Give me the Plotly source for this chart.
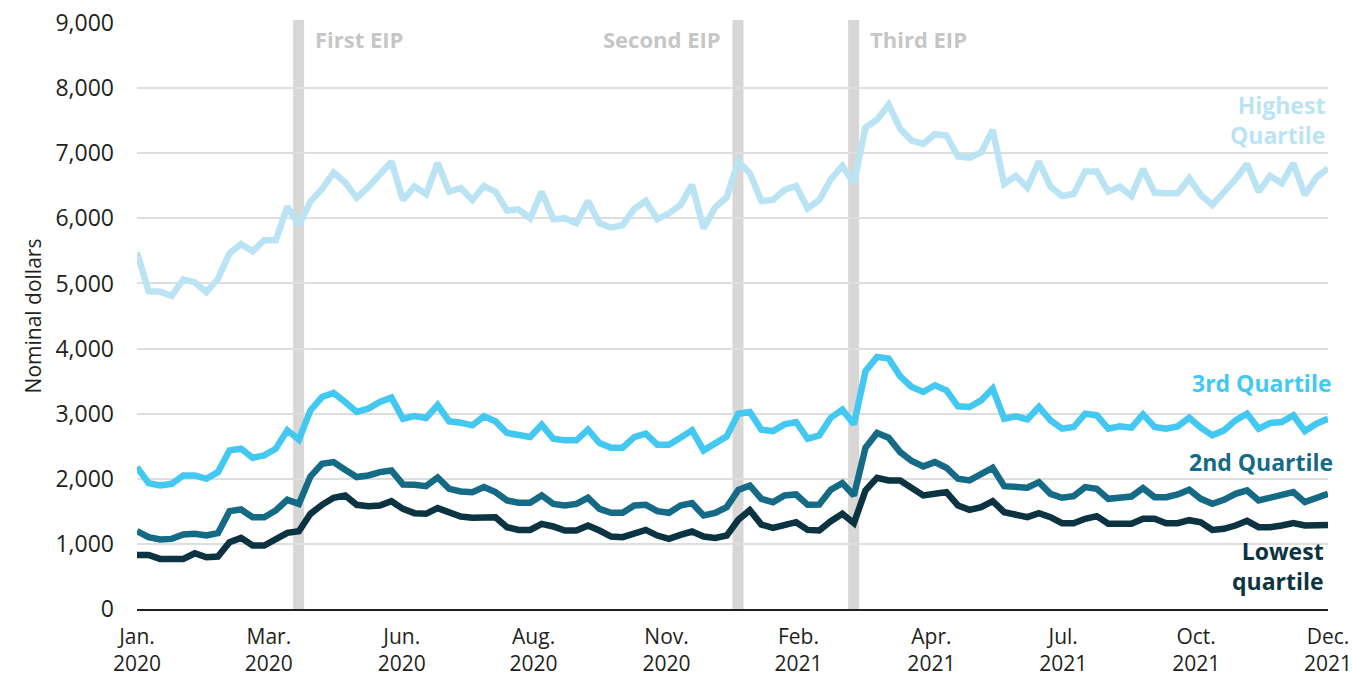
import plotly.graph_objects as go

# ---------------------------------------------------------------------------
# Data: weekly values, Jan. 2020 - Dec. 2021 (104 weeks)
# ---------------------------------------------------------------------------

WEEKS = list(range(104))

HIGHEST = [
    5477, 4882, 4872, 4810, 5062, 5015, 4867, 5072, 5462, 5605,
    5492, 5662, 5662, 6180, 5897, 6256, 6451, 6703, 6549, 6318,
    6477, 6677, 6872, 6282, 6487, 6374, 6850, 6410, 6462, 6282,
    6497, 6410, 6118, 6138, 6000, 6410, 5985, 6000, 5923, 6267,
    5923, 5856, 5897, 6144, 6267, 5985, 6077, 6205, 6513, 5846,
    6169, 6323, 6877, 6692, 6267, 6282, 6436, 6497, 6154, 6282,
    6600, 6805, 6538, 7395, 7513, 7744, 7374, 7195, 7144, 7292,
    7272, 6949, 6933, 7010, 7359, 6528, 6651, 6472, 6872, 6487,
    6344, 6374, 6718, 6718, 6410, 6487, 6344, 6759, 6395, 6385,
    6385, 6615, 6359, 6205, 6385, 6600, 6836, 6410, 6651, 6538,
    6846, 6359, 6631, 6769,
]

THIRD = [
    2180, 1933, 1897, 1923, 2051, 2051, 2000, 2103, 2436, 2462,
    2323, 2359, 2462, 2744, 2600, 3051, 3256, 3318, 3179, 3026,
    3077, 3179, 3246, 2923, 2964, 2933, 3133, 2882, 2862, 2821,
    2959, 2882, 2703, 2667, 2641, 2831, 2615, 2590, 2590, 2754,
    2549, 2477, 2477, 2641, 2692, 2523, 2523, 2631, 2744, 2436,
    2549, 2651, 3000, 3026, 2754, 2733, 2836, 2872, 2615, 2667,
    2938, 3062, 2836, 3651, 3872, 3846, 3574, 3410, 3333, 3436,
    3359, 3113, 3103, 3205, 3385, 2923, 2959, 2913, 3103, 2897,
    2769, 2795, 3000, 2974, 2769, 2805, 2785, 2990, 2795, 2769,
    2805, 2938, 2785, 2667, 2744, 2897, 3000, 2769, 2856, 2872,
    2974, 2733, 2846, 2923,
]

SECOND = [
    1195, 1103, 1067, 1077, 1144, 1154, 1128, 1164, 1503, 1528,
    1410, 1410, 1513, 1677, 1615, 2036, 2231, 2256, 2138, 2026,
    2051, 2103, 2128, 1913, 1908, 1887, 2020, 1846, 1805, 1795,
    1872, 1795, 1667, 1631, 1631, 1744, 1615, 1590, 1615, 1708,
    1538, 1477, 1477, 1590, 1600, 1503, 1477, 1590, 1626, 1436,
    1477, 1564, 1830, 1897, 1692, 1641, 1744, 1759, 1600, 1605,
    1831, 1933, 1744, 2477, 2703, 2631, 2410, 2272, 2190, 2256,
    2169, 2000, 1974, 2077, 2169, 1887, 1882, 1862, 1949, 1769,
    1708, 1733, 1872, 1846, 1692, 1718, 1728, 1856, 1718, 1718,
    1759, 1831, 1692, 1615, 1677, 1769, 1821, 1667, 1708, 1759,
    1795, 1641, 1708, 1769,
]

LOWEST = [
    831, 831, 769, 769, 769, 856, 795, 805, 1026, 1092,
    974, 974, 1062, 1169, 1195, 1462, 1600, 1708, 1744, 1600,
    1579, 1590, 1656, 1538, 1472, 1462, 1549, 1497, 1421, 1400,
    1400, 1410, 1256, 1215, 1215, 1308, 1267, 1205, 1205, 1282,
    1205, 1113, 1103, 1164, 1215, 1128, 1077, 1138, 1190, 1113,
    1092, 1128, 1370, 1518, 1297, 1246, 1282, 1333, 1215, 1205,
    1349, 1462, 1318, 1821, 2015, 1974, 1974, 1846, 1744, 1769,
    1795, 1590, 1523, 1564, 1656, 1487, 1436, 1410, 1472, 1410,
    1318, 1318, 1385, 1426, 1308, 1308, 1308, 1385, 1385, 1318,
    1318, 1364, 1333, 1215, 1231, 1282, 1354, 1256, 1256, 1282,
    1318, 1282, 1282, 1292,
]

TICK_TEXT = [
    "Jan.<br>2020", "Mar.<br>2020", "Jun.<br>2020", "Aug.<br>2020", "Nov.<br>2020",
    "Feb.<br>2021", "Apr.<br>2021", "Jul.<br>2021", "Oct.<br>2021", "Dec.<br>2021",
]
TICK_POS = [0, 11.4, 22.9, 34.3, 45.8, 57.2, 68.7, 80.1, 91.6, 103]

EIP_WEEKS = [14, 52, 62]
EIP_LABELS = ["First EIP", "Second EIP", "Third EIP"]

FONT = "Open Sans"
COLORS = {
    "Highest": "#bae3f4",
    "Third": "#43c8f2",
    "Second": "#156a86",
    "Lowest": "#0b3342",
}

# plot area in page pixels (used to place the series labels)
L, R, T, B = 137, 1328, 23, 609

# ---------------------------------------------------------------------------
# Figure
# ---------------------------------------------------------------------------

fig = go.Figure()

for name, vals, col in [
    ("Highest Quartile", HIGHEST, COLORS["Highest"]),
    ("3rd Quartile", THIRD, COLORS["Third"]),
    ("2nd Quartile", SECOND, COLORS["Second"]),
    ("Lowest quartile", LOWEST, COLORS["Lowest"]),
]:
    fig.add_trace(go.Scatter(
        x=WEEKS, y=vals, name=name, mode="lines",
        line=dict(color=col, width=6.5),
        cliponaxis=False,
    ))

# EIP bands and labels
for wk, lab in zip(EIP_WEEKS, EIP_LABELS):
    fig.add_shape(
        type="rect", xref="x", yref="paper",
        x0=wk - 0.5, x1=wk + 0.45, y0=0, y1=1.005,
        fillcolor="#d9d7d6", line_width=0, layer="between",
    )
    right_side = lab != "Second EIP"
    fig.add_annotation(
        x=wk + 0.45 if right_side else wk - 0.5, y=1, xref="x", yref="paper",
        text="<b>" + lab + "</b>", showarrow=False,
        xanchor="left" if right_side else "right", yanchor="top",
        xshift=9 if right_side else -10, yshift=1,
        font=dict(family=FONT, size=22, color="#c6c6c6"),
    )

# series labels on the right
series_labels = [
    ("Highest<br>Quartile", COLORS["Highest"], 1327, 120),
    ("3rd Quartile", COLORS["Third"], 1334, 383),
    ("2nd Quartile", COLORS["Second"], 1335, 462),
    ("Lowest<br>quartile", COLORS["Lowest"], 1326, 566),
]
for text, col, px_right, py in series_labels:
    fig.add_annotation(
        x=(px_right - L) / (R - L), y=1 - (py - T) / (B - T),
        xref="paper", yref="paper",
        text="<b>" + text + "</b>", showarrow=False,
        xanchor="right", yanchor="middle", align="right",
        font=dict(family=FONT, size=23, color=col),
    )

fig.update_layout(
    width=1353, height=677,
    margin=dict(l=L, r=1353 - R, t=T, b=677 - B, autoexpand=False),
    paper_bgcolor="white", plot_bgcolor="white",
    showlegend=False,
    font=dict(family=FONT, size=21, color="#231f20"),
)

fig.update_xaxes(
    range=[0, 103],
    tickvals=TICK_POS, ticktext=TICK_TEXT,
    showgrid=False, zeroline=False,
    showline=True, linecolor="#231f20", linewidth=1.8,
    ticks="", tickfont=dict(size=21), ticklabelstandoff=8,
)

fig.update_yaxes(
    range=[0, 9000], dtick=1000, tickformat=",d",
    showgrid=True, gridcolor="#dedede", gridwidth=1.5,
    zeroline=False, showline=False, ticks="",
    ticklabelstandoff=22, tickfont=dict(size=23),
    title=dict(text="Nominal dollars", font=dict(size=21), standoff=8),
)

fig.write_html(
    "out.html",
    config={"displayModeBar": False},
    post_script="document.body.style.margin='0';",
)
